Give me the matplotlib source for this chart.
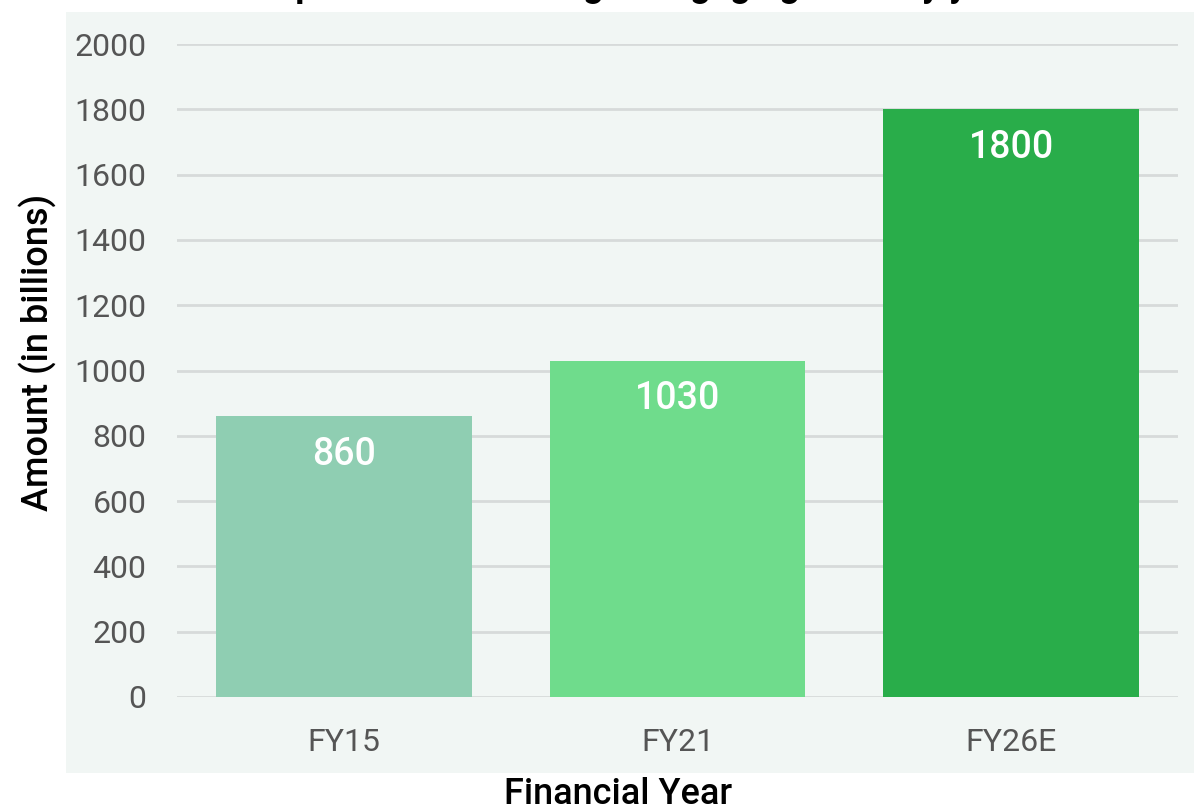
import matplotlib.pyplot as plt
from matplotlib.patches import Rectangle

plt.rcParams['font.family'] = ['Roboto', 'DejaVu Sans']

# data
years = ['FY15', 'FY21', 'FY26E']
amounts = [860, 1030, 1800]
bar_colors = ['#8fceb2', '#6fdc8c', '#29ad4a']
yticks = [0, 200, 400, 600, 800, 1000, 1200, 1400, 1600, 1800, 2000]

fig = plt.figure(figsize=(11.94, 8.10), dpi=100)

# light panel behind the plot, tick labels included
fig.patches.append(Rectangle((66 / 1194, 1 - 773 / 810), 1 - 66 / 1194, (773 - 12) / 810,
                             transform=fig.transFigure, facecolor='#f1f6f4',
                             edgecolor='none', zorder=-5))

ax = fig.add_axes([177 / 1194, 1 - 697 / 810, (1178 - 177) / 1194, (697 - 44) / 810])
ax.set_facecolor('none')
ax.set_zorder(2)

bars = ax.bar(years, amounts, width=0.766, color=bar_colors, zorder=3)
for b, v in zip(bars, amounts):
    ax.annotate(str(v), (b.get_x() + b.get_width() / 2, v), xytext=(0, -27.5),
                textcoords='offset points', ha='center', va='center',
                color='white', fontsize=27, fontweight='medium', zorder=4)

ax.set_xlim(-0.5, 2.5)
ax.set_ylim(0, 2000)
ax.set_yticks(yticks)
ax.grid(axis='y', color='#d7dada', linewidth=2, zorder=0)
ax.set_axisbelow(True)
for s in ax.spines.values():
    s.set_visible(False)
ax.tick_params(axis='both', length=0, labelsize=23, labelcolor='#555555')
ax.tick_params(axis='y', pad=22)
ax.tick_params(axis='x', pad=22)

fig.text(618 / 1194, 1 - 794 / 810, 'Financial Year', ha='center', va='center',
         fontsize=26, fontweight='medium', color='black')
fig.text(38 / 1194, 1 - 352 / 810, 'Amount (in billions)', ha='center', va='center',
         rotation=90, fontsize=26, fontweight='medium', color='black')

# title sits mostly above the canvas, only descenders show
fig.text(620 / 1194, 1 + 4 / 810, 'Comparison of Housing Mortgage growth by year',
         ha='center', va='baseline', fontsize=26, fontweight='bold', color='black')

fig.savefig('out.png', dpi=100)
